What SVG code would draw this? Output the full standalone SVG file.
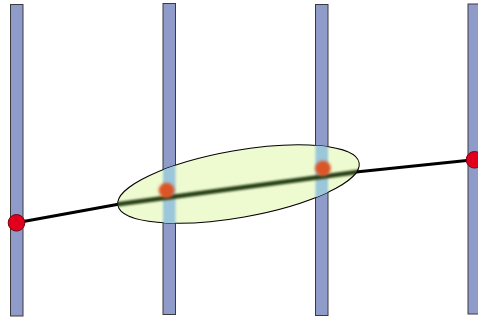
<svg xmlns="http://www.w3.org/2000/svg" width="478" height="320" viewBox="0 0 478 320">
<style>
.bar{fill:#8f9cca;stroke:#3a3a3a;stroke-width:1}
.end{fill:#e0001e;stroke:#7a0010;stroke-width:1}
.wire{fill:none;stroke:#000;stroke-width:3;stroke-linecap:round;stroke-linejoin:round}
.inbar{fill:#9cc6da}
.dot{fill:#dc5426}
</style>
<defs>
<clipPath id="ec"><ellipse cx="238.5" cy="184" rx="122.5" ry="33.5" transform="rotate(-10 238.5 184)"/></clipPath>
<filter id="b1" x="-20%" y="-50%" width="140%" height="200%"><feGaussianBlur stdDeviation="1.2"/></filter>
<filter id="b2" x="-50%" y="-50%" width="200%" height="200%"><feGaussianBlur stdDeviation="1.5"/></filter>
</defs>
<g id="bars">
<rect id="bar1" class="bar" x="10.5" y="4.5" width="12.5" height="311.5"/>
<rect id="bar2" class="bar" x="163" y="3.5" width="12.5" height="311"/>
<rect id="bar3" class="bar" x="315.5" y="4.5" width="12.5" height="311"/>
<rect id="bar4" class="bar" x="468" y="4" width="13" height="310"/>
</g>
<g id="connectors">
<polyline class="wire" points="16.5,222.8 118.3,204.3 238.5,188 358.3,171.7 474,159.8"/>
</g>
<g id="endpoint-left"><circle class="end" cx="16.5" cy="222.8" r="8.3"/></g>
<g id="endpoint-right"><circle class="end" cx="474.5" cy="159.8" r="8.3"/></g>
<g id="region">
<ellipse cx="238.5" cy="184" rx="122.5" ry="33.5" transform="rotate(-10 238.5 184)" fill="#eefad0" stroke="#000" stroke-width="1"/>
<g clip-path="url(#ec)">
<rect class="inbar" x="163" y="130" width="12.5" height="110" filter="url(#b1)"/>
<rect class="inbar" x="315.5" y="130" width="12.5" height="110" filter="url(#b1)"/>
<polyline points="116,204.6 238.5,188 361,171.4" fill="none" stroke="#263f16" stroke-width="4.5" filter="url(#b1)"/>
</g>
<circle class="dot" cx="166.5" cy="190.5" r="7.8" filter="url(#b2)"/>
<circle class="dot" cx="323" cy="168.5" r="7.8" filter="url(#b2)"/>
</g>
</svg>
